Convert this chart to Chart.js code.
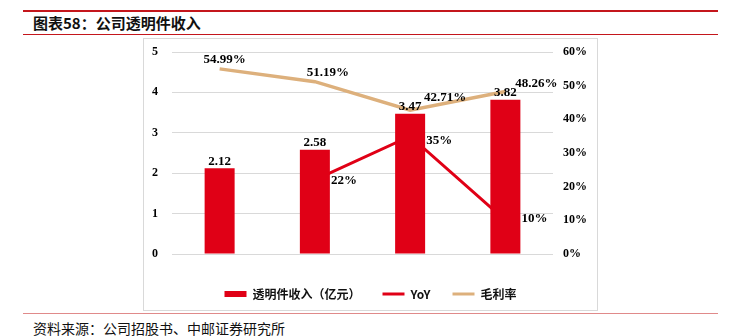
<!DOCTYPE html>
<html>
<head>
<meta charset="utf-8">
<script src="https://cdn.jsdelivr.net/npm/chart.js@4"></script>
<style>
  html, body { margin: 0; padding: 0; background: #fff; }
  body { width: 735px; height: 336px; position: relative; overflow: hidden; font-family: "Noto Sans CJK SC", sans-serif; }
  .topline { position: absolute; left: 23px; top: 10px; width: 695px; height: 2px; background: #C4161C; }
  .title { position: absolute; left: 33px; top: 13px; font-size: 15px; font-weight: bold; color: #111; line-height: 20px; }
  .subline { position: absolute; left: 23px; top: 34px; width: 695px; height: 1px; background: #C4161C; }
  .box { position: absolute; left: 143px; top: 38px; width: 455px; height: 273px; border: 1px solid #d9d9d9; box-sizing: border-box; }
  .chartwrap { position: absolute; left: 144px; top: 39px; width: 453px; height: 271px; }
  .bottomline { position: absolute; left: 23px; top: 313px; width: 695px; height: 1px; background: #E08A8A; }
  .source { position: absolute; left: 33px; top: 319px; font-size: 14px; color: #111; line-height: 18px; }
</style>
</head>
<body>
<div class="topline"></div>
<div class="title">图表58：公司透明件收入</div>
<div class="subline"></div>
<div class="box"></div>
<div class="chartwrap"><canvas id="c" width="453" height="271"></canvas></div>
<div class="bottomline"></div>
<div class="source">资料来源：公司招股书、中邮证券研究所</div>
<script>
const categories = ['2019', '2020', '2021', '2022'];
const revenue = [2.12, 2.58, 3.47, 3.82];
const yoy = [null, 22, 35, 10];
const grossMargin = [54.99, 51.19, 42.71, 48.26];
const seriesNames = ['透明件收入（亿元）', 'YoY', '毛利率'];
const leftTicks = [0, 1, 2, 3, 4, 5];
const rightTicks = [0, 10, 20, 30, 40, 50, 60];

const RED = '#E00016';
const TAN = '#DDB07C';
const serifBold = 'bold 13px "Liberation Serif", "Times New Roman", serif';

const labelPlugin = {
  id: 'valueLabels',
  afterDatasetsDraw(chart, args, opts) {
    const ctx = chart.ctx;
    ctx.save();
    ctx.font = serifBold;
    ctx.fillStyle = '#000';
    const barMeta = chart.getDatasetMeta(0);
    barMeta.data.forEach((el, i) => {
      ctx.textAlign = 'center';
      ctx.textBaseline = 'middle';
      ctx.fillText(revenue[i].toFixed(2), el.x, el.y - 7);
    });
    const yoyMeta = chart.getDatasetMeta(1);
    yoyMeta.data.forEach((el, i) => {
      if (yoy[i] == null) return;
      ctx.textAlign = 'left';
      ctx.textBaseline = 'middle';
      ctx.fillText(yoy[i] + '%', el.x + opts.yoyDx, el.y + opts.yoyDy[i]);
    });
    const gmMeta = chart.getDatasetMeta(2);
    gmMeta.data.forEach((el, i) => {
      ctx.textAlign = 'center';
      ctx.textBaseline = 'middle';
      ctx.fillText(grossMargin[i].toFixed(2) + '%', el.x + opts.gmDx[i], el.y + opts.gmDy[i]);
    });
    ctx.restore();
  }
};

function fixV(width) {
  return function (s) { s.width = width; s.paddingTop = 0; s.paddingBottom = 0; };
}

new Chart(document.getElementById('c'), {
  data: {
    labels: categories,
    datasets: [
      {
        type: 'bar', label: seriesNames[0], data: revenue, yAxisID: 'y',
        backgroundColor: RED, borderWidth: 0, order: 0,
        barPercentage: 0.315, categoryPercentage: 1
      },
      {
        type: 'line', label: seriesNames[1], data: yoy, yAxisID: 'y1',
        borderColor: RED, backgroundColor: RED, borderWidth: 3,
        pointRadius: 0, tension: 0, order: 1
      },
      {
        type: 'line', label: seriesNames[2], data: grossMargin, yAxisID: 'y1',
        borderColor: TAN, backgroundColor: TAN, borderWidth: 3.5,
        pointRadius: 0, tension: 0, order: 2
      }
    ]
  },
  options: {
    responsive: false,
    animation: false,
    layout: { padding: { top: 13, bottom: 0, left: 0, right: 0 } },
    scales: {
      x: {
        grid: { display: false },
        border: { display: false },
        ticks: { color: '#000', font: { family: '"Liberation Serif", serif', size: 13, weight: 'bold' }, padding: 7 },
        afterFit(s) { s.height = 12; s.paddingLeft = 0; s.paddingRight = 0; }
      },
      y: {
        position: 'left', min: 0, max: 5,
        afterBuildTicks(s) { s.ticks = leftTicks.map(v => ({ value: v })); },
        grid: { color: '#d9d9d9', lineWidth: 1, drawTicks: false },
        border: { display: false },
        ticks: { color: '#000', font: { family: '"Liberation Serif", serif', size: 12, weight: 'bold' }, padding: 14 },
        afterFit: fixV(28)
      },
      y1: {
        position: 'right', min: 0, max: 60,
        afterBuildTicks(s) { s.ticks = rightTicks.map(v => ({ value: v })); },
        grid: { display: false, drawTicks: false },
        border: { display: false },
        ticks: { color: '#000', font: { family: '"Liberation Serif", serif', size: 12, weight: 'bold' }, padding: 10, callback: v => v + '%' },
        afterFit: fixV(44)
      }
    },
    plugins: {
      tooltip: { enabled: false },
      legend: {
        position: 'bottom',
        labels: {
          color: '#111',
          font: { family: '"Noto Sans CJK SC", sans-serif', size: 12, weight: 'bold' },
          usePointStyle: true,
          pointStyleWidth: 22,
          boxHeight: 6,
          padding: 22,
          generateLabels(chart) {
            const items = Chart.defaults.plugins.legend.labels.generateLabels(chart);
            items.forEach(it => {
              const ds = chart.data.datasets[it.datasetIndex];
              if (ds.type === 'bar') {
                it.pointStyle = 'rect'; it.fillStyle = ds.backgroundColor; it.strokeStyle = ds.backgroundColor; it.lineWidth = 0;
              } else {
                it.pointStyle = 'line'; it.strokeStyle = ds.borderColor; it.fillStyle = ds.borderColor; it.lineWidth = 3;
              }
            });
            return items;
          }
        }
      },
      valueLabels: {
        yoyDx: 16,
        yoyDy: [0, 1, 4, -2],
        gmDx: [5, 13, 35, 31],
        gmDy: [-9, -9, -13, -8]
      }
    }
  },
  plugins: [labelPlugin]
});
</script>
</body>
</html>
